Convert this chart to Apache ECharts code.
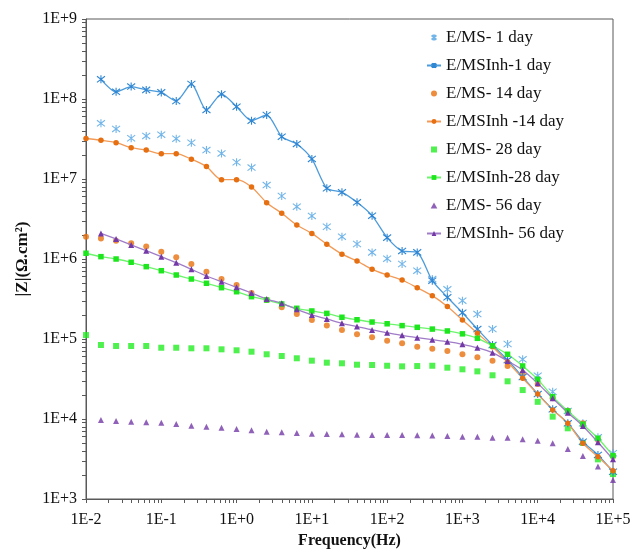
<!DOCTYPE html>
<html>
<head>
<meta charset="utf-8">
<script src="https://cdn.jsdelivr.net/npm/echarts@6/dist/echarts.min.js"></script>
<style>
  html, body { margin: 0; padding: 0; background: #fff; }
  #chart { width: 633px; height: 551px; }
</style>
</head>
<body>
<div id="chart"></div>
<script>
// Measurement frequencies (Hz): five points per decade, 1E-2 .. 1E+5
const freq = [0.01, 0.0158, 0.0251, 0.0398, 0.0631, 0.1, 0.158, 0.251, 0.398, 0.631,
  1, 1.58, 2.51, 3.98, 6.31, 10, 15.8, 25.1, 39.8, 63.1,
  100, 158, 251, 398, 631, 1000, 1580, 2510, 3980, 6310,
  10000, 15800, 25100, 39800, 63100, 100000];

// |Z| values (ohm.cm2) for each immersion time, aligned with freq (null = no point)
const ems1 = [null, 4.97e7, 4.22e7, 3.23e7, 3.45e7, 3.58e7, 3.19e7, 2.84e7, 2.30e7, 2.09e7,
  1.62e7, 1.39e7, 8.4e6, 6.13e6, 4.51e6, 3.45e6, 2.53e6, 1.90e6, 1.54e6, 1.21e6,
  1.01e6, 8.66e5, 7.14e5, 5.62e5, 4.18e5, 3.01e5, 2.05e5, 1.33e5, 8.66e4, 5.57e4,
  3.48e4, 2.19e4, 1.26e4, 8.84e3, 5.9e3, 3.73e3];
const emsInh1 = [null, 1.76e8, 1.23e8, 1.43e8, 1.30e8, 1.21e8, 9.44e7, 1.54e8, 7.29e7, 1.15e8,
  8.01e7, 5.35e7, 6.31e7, 3.38e7, 2.74e7, 1.78e7, 7.65e6, 6.82e6, 5.11e6, 3.48e6,
  1.85e6, 1.26e6, 1.21e6, 5.36e5, 3.32e5, 2.13e5, 1.33e5, 8.41e4, 5.46e4, 3.35e4,
  2.05e4, 1.32e4, 8.84e3, 5.2e3, 3.55e3, 2.19e3];
const ems14 = [1.90e6, 1.81e6, 1.69e6, 1.57e6, 1.43e6, 1.23e6, 1.05e6, 8.66e5, 6.94e5, 5.62e5,
  4.73e5, 3.76e5, 3.07e5, 2.49e5, 2.05e5, 1.73e5, 1.47e5, 1.30e5, 1.15e5, 1.05e5,
  9.53e4, 8.83e4, 8.02e4, 7.57e4, 7.08e4, 6.44e4, 5.91e4, 5.36e4, 4.6e4, 3.73e4,
  2.74e4, 1.82e4, 1.27e4, 8.84e3, 5.47e3, 3.45e3];
const emsInh14 = [3.21e7, 3.05e7, 2.84e7, 2.46e7, 2.30e7, 2.07e7, 2.07e7, 1.77e7, 1.43e7, 9.8e6,
  9.8e6, 7.94e6, 5.06e6, 3.73e6, 2.66e6, 2.09e6, 1.53e6, 1.15e6, 9.44e5, 7.43e5,
  6.31e5, 5.46e5, 4.38e5, 3.48e5, 2.54e5, 1.73e5, 1.18e5, 8.02e4, 5.16e4, 3.23e4,
  2.05e4, 1.30e4, 8.84e3, 4.97e3, 3.38e3, 2.26e3];
const ems28 = [1.12e5, 8.41e4, 8.18e4, 8.18e4, 8.18e4, 7.78e4, 7.78e4, 7.65e4, 7.65e4, 7.43e4,
  7.22e4, 6.94e4, 6.44e4, 6.13e4, 5.74e4, 5.36e4, 5.06e4, 4.97e4, 4.77e4, 4.73e4,
  4.63e4, 4.55e4, 4.59e4, 4.63e4, 4.38e4, 4.18e4, 3.94e4, 3.52e4, 2.96e4, 2.30e4,
  1.64e4, 1.07e4, 7.65e3, 5.01e3, 3.13e3, 2.05e3];
const emsInh28 = [1.18e6, 1.07e6, 1.0e6, 9.1e5, 8.02e5, 7.14e5, 6.31e5, 5.62e5, 4.97e5, 4.38e5,
  3.90e5, 3.38e5, 3.07e5, 2.74e5, 2.42e5, 2.24e5, 2.09e5, 1.87e5, 1.74e5, 1.63e5,
  1.55e5, 1.47e5, 1.40e5, 1.33e5, 1.26e5, 1.16e5, 1.02e5, 8.24e4, 6.44e4, 4.6e4,
  3.13e4, 1.90e4, 1.26e4, 8.59e3, 5.74e3, 3.48e3];
const ems56 = [null, 9.72e3, 9.44e3, 9.25e3, 9.1e3, 9.0e3, 8.66e3, 8.24e3, 8.02e3, 7.78e3,
  7.5e3, 7.22e3, 6.94e3, 6.82e3, 6.68e3, 6.55e3, 6.49e3, 6.44e3, 6.37e3, 6.31e3,
  6.31e3, 6.31e3, 6.26e3, 6.24e3, 6.13e3, 6.01e3, 6.01e3, 5.83e3, 5.83e3, 5.57e3,
  5.36e3, 4.97e3, 4.22e3, 3.45e3, 2.54e3, 1.73e3];
const emsInh56 = [null, 2.09e6, 1.78e6, 1.50e6, 1.27e6, 1.07e6, 8.99e5, 7.43e5, 6.13e5, 5.2e5,
  4.43e5, 3.76e5, 3.16e5, 2.79e5, 2.35e5, 2.0e5, 1.78e5, 1.57e5, 1.43e5, 1.30e5,
  1.20e5, 1.11e5, 1.04e5, 9.8e4, 9.25e4, 8.59e4, 7.78e4, 6.74e4, 5.31e4, 4.1e4,
  2.79e4, 1.82e4, 1.20e4, 8.18e3, 5.12e3, 3.13e3];

// Series names (legend order)
const names = ['E/MS- 1 day', 'E/MSInh-1 day', 'E/MS- 14 day', 'E/MSInh -14 day',
  'E/MS- 28 day', 'E/MSInh-28 day', 'E/MS- 56 day', 'E/MSInh- 56 day'];

// Axis decades
const xDecades = [0.01, 0.1, 1, 10, 100, 1000, 10000, 100000];
const yDecades = [1e3, 1e4, 1e5, 1e6, 1e7, 1e8, 1e9];

// Minor tick positions at 2..9 times each decade
function withMinors(decades) {
  const out = [];
  decades.forEach((d, i) => {
    out.push(d);
    if (i < decades.length - 1) for (let m = 2; m <= 9; m++) out.push(+(d * m).toPrecision(3));
  });
  return out;
}

function pairs(vals) {
  const out = [];
  vals.forEach((v, i) => { if (v != null) out.push([freq[i], v]); });
  return out;
}

function sci(v) {
  const e = Math.round(Math.log10(v));
  return '1E' + (e >= 0 ? '+' : '-') + Math.abs(e);
}

const serif = '"Liberation Serif", "Times New Roman", serif';
// Marker shapes as paths so legend icons keep their aspect ratio
const asterisk = 'path://M0,0L10,10M10,0L0,10M5,-1.5L5,11.5';
const square = 'path://M0,0L10,0L10,10L0,10Z';
const triangle = 'path://M5,0L10,9L0,9Z';

function scatter(name, vals, symbol, size, color, stroke) {
  return {
    name, type: 'scatter', data: pairs(vals), symbol, symbolSize: size,
    itemStyle: stroke
      ? { color: color, borderColor: color, borderWidth: 1.1 }
      : { color: color },
    emphasis: { disabled: true },
    z: 2
  };
}

function line(name, vals, symbol, size, lineColor, markColor, stroke) {
  return {
    name, type: 'line', data: pairs(vals), symbol, symbolSize: size,
    showAllSymbol: true, smooth: 0.25,
    lineStyle: { color: lineColor, width: 1.3 },
    itemStyle: stroke
      ? { color: markColor, borderColor: markColor, borderWidth: 1.1 }
      : { color: markColor, borderWidth: 0 },
    emphasis: { disabled: true },
    z: 3
  };
}

const chart = echarts.init(document.getElementById('chart'), null, { renderer: 'canvas' });

chart.setOption({
  animation: false,
  backgroundColor: '#fff',
  grid: {
    left: 86, right: 20, top: 19, bottom: 52,
    outerBoundsMode: 'none',
    show: true, borderColor: '#595959', borderWidth: 1
  },
  legend: {
    orient: 'vertical', left: 426, top: 29, padding: 0,
    itemWidth: 14, itemHeight: 6, itemGap: 11,
    textStyle: { fontFamily: serif, fontSize: 17, color: '#111', lineHeight: 17 },
    data: names
  },
  xAxis: {
    type: 'log', logBase: 10, min: 0.01, max: 100000,
    name: 'Frequency(Hz)', nameLocation: 'middle', nameGap: 34,
    nameTextStyle: { fontFamily: serif, fontSize: 16, fontWeight: 'bold', color: '#111' },
    axisLine: { onZero: false, lineStyle: { color: '#595959', width: 1 } },
    axisTick: { length: 4, lineStyle: { color: '#595959' }, customValues: withMinors(xDecades) },
    axisLabel: { customValues: xDecades, formatter: sci, fontFamily: serif, fontSize: 16, color: '#111', margin: 13 },
    splitLine: { show: false }
  },
  yAxis: {
    type: 'log', logBase: 10, min: 1e3, max: 1e9,
    name: '|Z|(Ω.cm²)', nameLocation: 'middle', nameGap: 55,
    nameTextStyle: { fontFamily: serif, fontSize: 17, fontWeight: 'bold', color: '#111' },
    axisLine: { onZero: false, lineStyle: { color: '#595959', width: 1 } },
    axisTick: { length: 4, lineStyle: { color: '#595959' }, customValues: withMinors(yDecades) },
    axisLabel: { customValues: yDecades, formatter: sci, fontFamily: serif, fontSize: 16, color: '#111', margin: 9 },
    splitLine: { show: false }
  },
  series: [
    scatter(names[0], ems1, asterisk, 8, '#4FA3E3', true),
    line(names[1], emsInh1, asterisk, 8, '#4C9BDB', '#2F86D3', true),
    scatter(names[2], ems14, 'circle', 6, '#E8700E', false),
    line(names[3], emsInh14, 'circle', 5.5, '#F29A56', '#E66F12', false),
    scatter(names[4], ems28, square, 6, '#22EE22', false),
    line(names[5], emsInh28, square, 5.5, '#6CF56C', '#1EE61E', false),
    scatter(names[6], ems56, triangle, 6, '#7339A6', false),
    line(names[7], emsInh56, triangle, 6, '#A07CC8', '#7339A6', false)
  ]
});
</script>
</body>
</html>
